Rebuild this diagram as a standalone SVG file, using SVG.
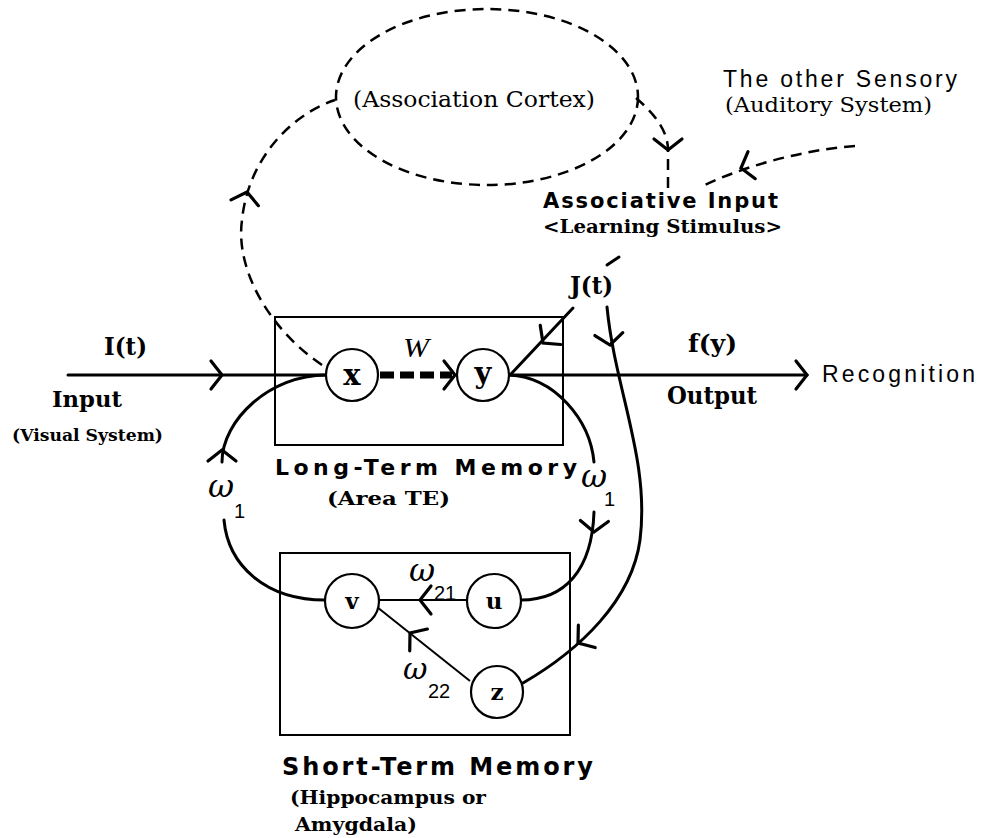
<svg xmlns="http://www.w3.org/2000/svg" xmlns:xlink="http://www.w3.org/1999/xlink" width="981" height="838" viewBox="0 0 981 838">
<style>
  .ln{fill:none;stroke:#000;stroke-width:3;stroke-linecap:round}
  .thin{fill:none;stroke:#000;stroke-width:2}
  .dash{fill:none;stroke:#000;stroke-width:2.5;stroke-dasharray:11 7}
  .box{fill:none;stroke:#000;stroke-width:2}
  .node{fill:#fff;stroke:#000;stroke-width:2.2}
  .chev{fill:none;stroke:#000;stroke-width:3.2;stroke-linecap:round;stroke-linejoin:miter}
  .serif{font-family:"DejaVu Serif","Liberation Serif",serif;font-weight:bold;fill:#000}
  .serifn{font-family:"DejaVu Serif","Liberation Serif",serif;font-weight:normal;fill:#000}
  .sans{font-family:"Liberation Sans","DejaVu Sans",sans-serif;fill:#000}
  .sansb{font-family:"DejaVu Sans","Liberation Sans",sans-serif;font-weight:bold;fill:#000}
  .it{font-family:"Liberation Serif","DejaVu Serif",serif;font-style:italic;fill:#000}
  .om{font-family:"DejaVu Serif","Liberation Serif",serif;font-style:italic;fill:#000}
</style>
<defs>
  <path id="chev" d="M-11,-14 L0,0 L-11,14"/>
</defs>
<rect width="981" height="838" fill="#fff"/>

<g id="connectors">
  <!-- main input/output line -->
  <path class="ln" d="M68,375 L326,375"/>
  <path class="ln" d="M509,375 L807,375"/>
  <!-- W dashed -->
  <path d="M380,375 L452,375" fill="none" stroke="#000" stroke-width="7" stroke-dasharray="14 6"/>
  <!-- J(t) to y -->
  <path class="ln" d="M573,308 L511,374"/>
  <!-- J(t) to z -->
  <path class="ln" d="M607,307 C615,390 650,460 640,540 C632,600 580,650 523,683"/>
  <!-- left loop v -> x -->
  <path class="ln" d="M326,375 C270,375 222,420 222,462"/>
  <path class="ln" d="M224,520 C228,565 265,600 325,600"/>
  <!-- right loop y -> u -->
  <path class="ln" d="M509,375 C555,377 590,420 594,462"/>
  <path class="ln" d="M594,512 C592,570 565,600 521,600"/>
  <!-- u -> v, z -> v -->
  <path class="thin" d="M467,600 L379,600"/>
  <path class="thin" d="M470,681 L377,607"/>
  <!-- dashed big arc x -> association cortex -->
  <path class="dash" d="M322,365 C270,330 235,270 242,220 C248,160 290,115 335,100"/>
  <!-- association cortex -> associative input -->
  <path class="dash" d="M636,98 C650,110 668,128 668,150 L668,188"/>
  <!-- other sensory -> associative input -->
  <path class="dash" d="M855,146 C800,150 740,168 705,185"/>
  <!-- small tick -->
  <path class="ln" d="M607,265 L619,257"/>

  <!-- chevrons -->
  <use href="#chev" class="chev" transform="translate(222,375)"/>
  <use href="#chev" class="chev" transform="translate(455,375)"/>
  <use href="#chev" class="chev" transform="translate(807,375)"/>
  <use href="#chev" class="chev" transform="translate(543,343) rotate(133)"/>
  <use href="#chev" class="chev" transform="translate(610,345) rotate(84)"/>
  <use href="#chev" class="chev" transform="translate(222,450) rotate(-90)"/>
  <use href="#chev" class="chev" transform="translate(594,532) rotate(92)"/>
  <use href="#chev" class="chev" transform="translate(420,600) rotate(180)"/>
  <use href="#chev" class="chev" transform="translate(410,633) rotate(219)"/>
  <use href="#chev" class="chev" transform="translate(578,643) rotate(143)"/>
  <use href="#chev" class="chev" transform="translate(247,192) rotate(-78)"/>
  <use href="#chev" class="chev" transform="translate(668,150) rotate(90)"/>
  <use href="#chev" class="chev" transform="translate(741,168) rotate(165)"/>
</g>

<g id="association-cortex">
  <ellipse cx="487" cy="97" rx="151" ry="88" fill="none" stroke="#000" stroke-width="2.5" stroke-dasharray="11 7"/>
  <text class="serifn" x="353" y="107" font-size="23" textLength="242" lengthAdjust="spacingAndGlyphs">(Association Cortex)</text>
</g>

<g id="other-sensory">
  <text class="sans" x="723" y="87" font-size="23" textLength="234" lengthAdjust="spacing">The other Sensory</text>
  <text class="serifn" x="725" y="112" font-size="21" textLength="207" lengthAdjust="spacingAndGlyphs">(Auditory System)</text>
</g>

<g id="associative-input">
  <text class="sansb" x="543" y="208" font-size="21" textLength="235" lengthAdjust="spacing">Associative Input</text>
  <text class="serif" x="543" y="233" font-size="18" textLength="239" lengthAdjust="spacingAndGlyphs">&lt;Learning Stimulus&gt;</text>
  <text class="serif" x="570" y="294" font-size="24" textLength="43" lengthAdjust="spacingAndGlyphs">J(t)</text>
</g>

<g id="input">
  <text class="serif" x="104" y="355" font-size="24" textLength="43" lengthAdjust="spacingAndGlyphs">I(t)</text>
  <text class="serif" x="52" y="407" font-size="23" textLength="70" lengthAdjust="spacingAndGlyphs">Input</text>
  <text class="serif" x="12" y="441" font-size="17" textLength="151" lengthAdjust="spacingAndGlyphs">(Visual System)</text>
</g>

<g id="output">
  <text class="serif" x="688" y="352" font-size="24" textLength="49" lengthAdjust="spacingAndGlyphs">f(y)</text>
  <text class="serif" x="667" y="404" font-size="24" textLength="90" lengthAdjust="spacingAndGlyphs">Output</text>
  <text class="sans" x="822" y="382" font-size="23" textLength="153" lengthAdjust="spacing">Recognition</text>
</g>

<g id="long-term-memory">
  <rect class="box" x="275" y="317" width="288" height="128"/>
  <text class="it" x="403" y="357" font-size="27" textLength="26" lengthAdjust="spacingAndGlyphs">W</text>
  <text class="sansb" x="275" y="475" font-size="22" textLength="302" lengthAdjust="spacing">Long-Term Memory</text>
  <text class="serif" x="327" y="505" font-size="19" textLength="123" lengthAdjust="spacingAndGlyphs">(Area TE)</text>
</g>

<g id="node-x">
  <circle class="node" cx="352" cy="375" r="26"/>
  <text class="serif" x="352" y="385" font-size="29" text-anchor="middle">x</text>
</g>
<g id="node-y">
  <circle class="node" cx="483" cy="375" r="26"/>
  <text class="serif" x="483" y="383" font-size="29" text-anchor="middle">y</text>
</g>

<g id="weights">
  <text class="om" x="208" y="497" font-size="32">ω</text>
  <text class="sans" x="234" y="518" font-size="20">1</text>
  <text class="om" x="581" y="487" font-size="32">ω</text>
  <text class="sans" x="604" y="506" font-size="20">1</text>
  <text class="om" x="409" y="581" font-size="32">ω</text>
  <text class="sans" x="434" y="600" font-size="20">21</text>
  <text class="om" x="403" y="679" font-size="30">ω</text>
  <text class="sans" x="428" y="698" font-size="20">22</text>
</g>

<g id="short-term-memory">
  <rect class="box" x="280" y="553" width="290" height="182"/>
  <text class="sansb" x="282" y="775" font-size="24" textLength="311" lengthAdjust="spacing">Short-Term Memory</text>
  <text class="serif" x="290" y="804" font-size="19" textLength="196" lengthAdjust="spacingAndGlyphs">(Hippocampus or</text>
  <text class="serif" x="295" y="831" font-size="19" textLength="122" lengthAdjust="spacingAndGlyphs">Amygdala)</text>
</g>

<g id="node-v">
  <circle class="node" cx="352" cy="601" r="27"/>
  <text class="serif" x="352" y="609" font-size="23" text-anchor="middle">v</text>
</g>
<g id="node-u">
  <circle class="node" cx="494" cy="601" r="27"/>
  <text class="serif" x="494" y="609" font-size="23" text-anchor="middle">u</text>
</g>
<g id="node-z">
  <circle class="node" cx="497" cy="692" r="26"/>
  <text class="serif" x="497" y="700" font-size="23" text-anchor="middle">z</text>
</g>
</svg>
